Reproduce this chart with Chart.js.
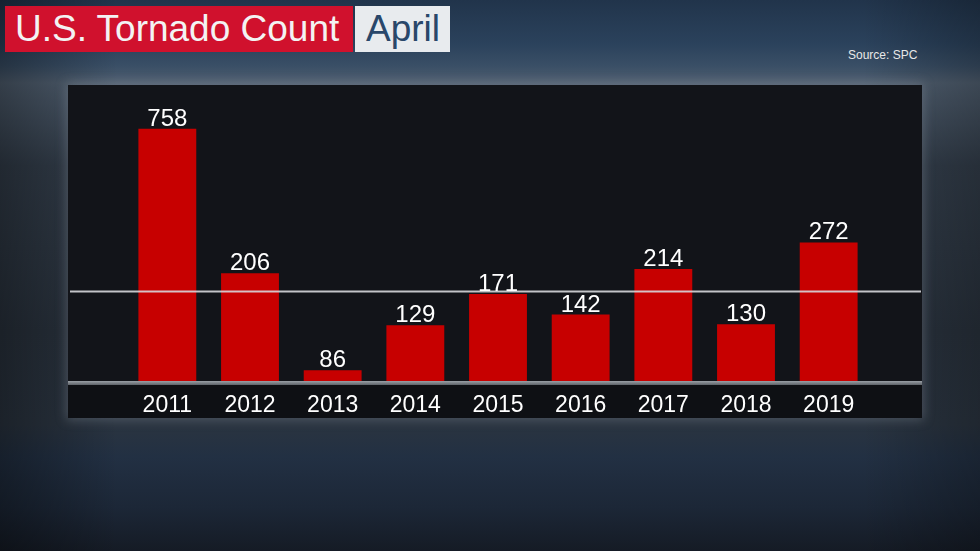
<!DOCTYPE html>
<html>
<head>
<meta charset="utf-8">
<script src="https://cdn.jsdelivr.net/npm/chart.js@4"></script>
<style>
  html, body { margin: 0; padding: 0; }
  body {
    width: 980px; height: 551px; overflow: hidden; position: relative;
    font-family: "Liberation Sans", Arial, sans-serif;
    background:
      linear-gradient(to right, rgba(0,0,0,0.35) 0%, rgba(0,0,0,0) 12%, rgba(0,0,0,0) 88%, rgba(0,0,0,0.25) 100%),
      linear-gradient(to bottom, #21344b 0%, #2b425c 8%, #3a4f66 12%, #505f70 15%, #333e4b 30%, #29323d 60%, #2a3440 77%, #223043 83%, #1c2737 92%, #151b25 100%);
  }
  #title { position: absolute; left: 5px; top: 6px; height: 46px; display: flex; }
  #title .main {
    background: #d0112d; color: #f3f3f3; font-size: 37px; line-height: 46px;
    padding: 0 10px 0 10px; width: 328px;
  }
  #title .month {
    margin-left: 2px; background: #e8ebee; color: #29476a; font-size: 37px; line-height: 46px;
    padding: 0 10px 0 11px;
  }
  #source { position: absolute; left: 848px; top: 48px; color: #e8e8e8; font-size: 12px; }
  #panel {
    position: absolute; left: 68px; top: 85px; width: 854px; height: 333px;
    background: #121419;
    box-shadow: 0 0 10px 2px rgba(140,150,160,0.35);
  }
  #strip { position: absolute; left: 0; right: 0; bottom: 0; height: 33px; background: #0e1014; }
  canvas { position: absolute; left: 0; top: 0; }
</style>
</head>
<body>
<div id="title"><div class="main">U.S. Tornado Count</div><div class="month">April</div></div>
<div id="source">Source: SPC</div>
<div id="panel"><div id="strip"></div></div>
<canvas id="chart" width="980" height="551"></canvas>
<script>
const years = ["2011", "2012", "2013", "2014", "2015", "2016", "2017", "2018", "2019"];
const tornadoCounts = [758, 206, 86, 129, 171, 142, 214, 130, 272];
const averageLine = 175;

// labels, baseline and the average line drawn on top of the bars
const overlay = {
  id: 'overlay',
  afterDatasetsDraw(chart) {
    const ctx = chart.ctx;
    const area = chart.chartArea;
    const x = chart.scales.x;
    const y = chart.scales.y;

    // baseline
    const grad = ctx.createLinearGradient(0, area.bottom, 0, area.bottom + 4);
    grad.addColorStop(0, '#9aa0a6');
    grad.addColorStop(1, '#5d6268');
    ctx.fillStyle = grad;
    ctx.fillRect(68, area.bottom, 854, 4);

    // average line
    const ay = Math.round(y.getPixelForValue(averageLine)) + 0.5;
    ctx.strokeStyle = 'rgba(215,215,220,0.9)';
    ctx.lineWidth = 2;
    ctx.beginPath();
    ctx.moveTo(70, ay);
    ctx.lineTo(921, ay);
    ctx.stroke();

    ctx.fillStyle = '#ffffff';
    ctx.textAlign = 'center';
    ctx.textBaseline = 'alphabetic';
    chart.getDatasetMeta(0).data.forEach((bar, i) => {
      ctx.font = '24px "Liberation Sans", Arial, sans-serif';
      ctx.fillText(String(tornadoCounts[i]), bar.x, bar.y - 3);
      ctx.font = '23px "Liberation Sans", Arial, sans-serif';
      ctx.fillText(years[i], x.getPixelForValue(i), area.bottom + 31);
    });
  }
};

new Chart(document.getElementById('chart'), {
  type: 'bar',
  data: {
    labels: years,
    datasets: [{
      data: tornadoCounts,
      backgroundColor: '#c70000',
      barPercentage: 0.7,
      categoryPercentage: 1
    }]
  },
  options: {
    responsive: false,
    animation: false,
    layout: { padding: { left: 126, right: 110, top: 98, bottom: 170 } },
    plugins: { legend: { display: false }, tooltip: { enabled: false } },
    scales: {
      x: { display: false },
      y: { type: 'logarithmic', display: false, min: 78, max: 1000 }
    }
  },
  plugins: [overlay]
});
</script>
</body>
</html>
